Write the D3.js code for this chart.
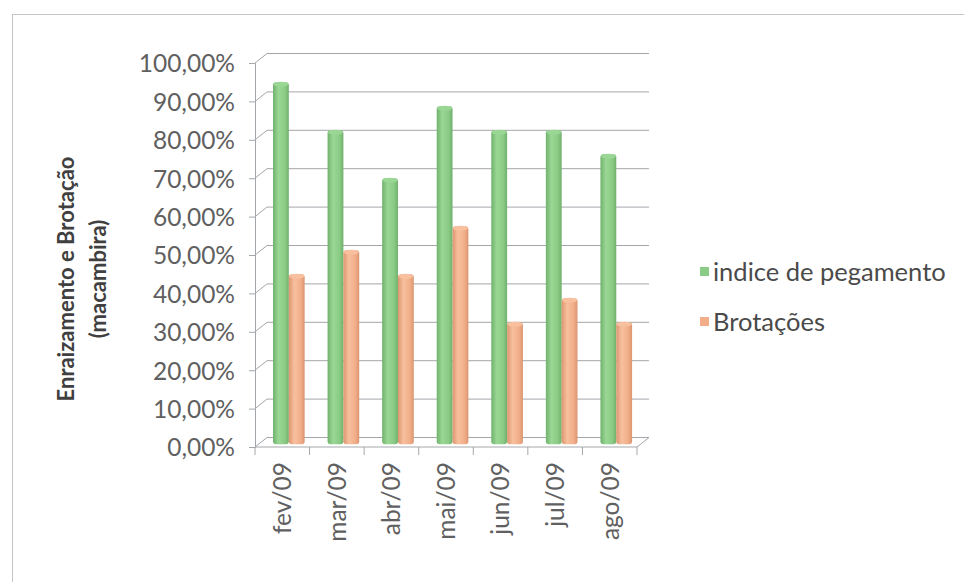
<!DOCTYPE html>
<html lang="pt">
<head>
<meta charset="UTF-8">
<title>Enraizamento e Brotação</title>
<script src="https://d3js.org/d3.v7.min.js"></script>
<style>
  body { margin: 0; background: #fff; }
  text { font-family: Lato, "Open Sans", sans-serif; }
  .tick text { fill: #606060; font-size: 24.5px; }
</style>
</head>
<body>
<svg id="svg" width="964" height="582"></svg>
<script>
// data
let months = ['fev/09', 'mar/09', 'abr/09', 'mai/09', 'jun/09', 'jul/09', 'ago/09'];
let seriesNames = ['indice de pegamento', 'Brotações'];
let pegamento = [0.9375, 0.8125, 0.6875, 0.875, 0.8125, 0.8125, 0.75];
let brotacoes = [0.4375, 0.50, 0.4375, 0.5625, 0.3125, 0.375, 0.3125];
let yTicks = [0, 0.1, 0.2, 0.3, 0.4, 0.5, 0.6, 0.7, 0.8, 0.9, 1];

let svg = d3.select('#svg');
let pt = d3.formatLocale({decimal: ',', thousands: '.', grouping: [3], currency: ['R$', '']});
let fmt = pt.format('.2%');

// front plane + depth offsets (fake 3d like excel)
let depth = {dx: 12, dy: -9.5};
let plotL = 255, plotR = 637, plotB = 447, plotT = 63;

let x = d3.scaleBand().domain(months).range([plotL, plotR]).padding(0);
let y = d3.scaleLinear().domain([0, 1]).range([plotB, plotT]);
let xs = d3.scaleBand().domain(seriesNames)
    .range([x.bandwidth() * 0.22, x.bandwidth() * 0.80]).padding(0);

// outer frame
svg.append('rect')
    .attr('x', 12.5).attr('y', 14.5)
    .attr('width', 1000).attr('height', 700)
    .attr('fill', 'none').attr('stroke', '#c4c4c4');

let grid = svg.append('g').attr('stroke', '#a3a7ab').attr('fill', 'none');

// back wall gridlines + side wall diagonals
grid.selectAll('.gl').data(yTicks).enter().append('path')
    .attr('d', d => 'M' + plotL + ',' + y(d) +
        'L' + (plotL + depth.dx) + ',' + (y(d) + depth.dy) +
        'L' + (plotR + depth.dx) + ',' + (y(d) + depth.dy));

// floor
grid.append('path')
    .attr('d', 'M' + plotL + ',' + plotB + 'L' + plotR + ',' + plotB +
        'L' + (plotR + depth.dx) + ',' + (plotB + depth.dy));

// category boundary ticks
grid.selectAll('.ct').data(d3.range(months.length + 1)).enter().append('line')
    .attr('x1', i => plotL + i * x.step()).attr('x2', i => plotL + i * x.step())
    .attr('y1', plotB).attr('y2', plotB + 8);

// y axis (front)
let yAxis = svg.append('g')
    .attr('transform', 'translate(' + plotL + ',0)')
    .call(d3.axisLeft(y).tickValues(yTicks).tickFormat(fmt).tickSize(6).tickPadding(14));
yAxis.select('.domain').attr('stroke', '#a3a7ab');
yAxis.selectAll('.tick line').attr('stroke', '#a3a7ab');
yAxis.selectAll('.tick text').attr('dy', '0.36em');

// x labels
let xAxis = svg.append('g')
    .attr('transform', 'translate(0,' + plotB + ')')
    .call(d3.axisBottom(x).tickSize(0).tickPadding(0));
xAxis.select('.domain').remove();
xAxis.selectAll('.tick text')
    .attr('transform', 'rotate(-90)')
    .attr('text-anchor', 'end')
    .attr('x', -15).attr('y', 0).attr('dy', '0.36em');

// gradients for cylinder look
let defs = svg.append('defs');
let colors = [
    ['#6fb26c', '#9ad795', '#8acb86', '#70b06c'],
    ['#dc9670', '#f8c09e', '#f1ae89', '#db9671']
];
colors.forEach((c, i) => {
    let g = defs.append('linearGradient').attr('id', 'g' + i)
        .attr('x1', 0).attr('x2', 1).attr('y1', 0).attr('y2', 0);
    g.append('stop').attr('offset', '0%').attr('stop-color', c[0]);
    g.append('stop').attr('offset', '35%').attr('stop-color', c[1]);
    g.append('stop').attr('offset', '75%').attr('stop-color', c[2]);
    g.append('stop').attr('offset', '100%').attr('stop-color', c[3]);
});

let barData = [];
months.forEach((m, i) => {
    barData.push({m: m, s: seriesNames[0], v: pegamento[i], k: 0});
    barData.push({m: m, s: seriesNames[1], v: brotacoes[i], k: 1});
});

let bx = depth.dx / 2, by = depth.dy / 2;
let bars = svg.append('g').attr('transform', 'translate(' + bx + ',' + by + ')');
let bw = xs.bandwidth();

bars.selectAll('.bar').data(barData).enter().append('rect')
    .attr('x', d => x(d.m) + xs(d.s))
    .attr('y', d => y(d.v))
    .attr('width', bw)
    .attr('height', d => y(0) - y(d.v) + 2)
    .attr('rx', 3).attr('ry', 3)
    .attr('fill', d => 'url(#g' + d.k + ')');

bars.selectAll('.cap').data(barData).enter().append('ellipse')
    .attr('cx', d => x(d.m) + xs(d.s) + bw / 2)
    .attr('cy', d => y(d.v) + 2)
    .attr('rx', bw / 2 - 0.5).attr('ry', 2.5)
    .attr('fill', d => colors[d.k][1]);

// y title
svg.append('text')
    .attr('transform', 'translate(74,279) rotate(-90)')
    .attr('text-anchor', 'middle')
    .attr('font-size', 22).attr('font-weight', 'bold').attr('fill', '#404040')
    .selectAll('tspan').data(['Enraizamento e Brotação', '(macambira)']).enter()
    .append('tspan')
    .attr('x', 0).attr('dy', (d, i) => i ? '1.45em' : 0)
    .text(d => d);

// legend
let legend = svg.append('g');
let ly = d3.scalePoint().domain(seriesNames).range([272, 322]);
legend.selectAll('rect').data(seriesNames).enter().append('rect')
    .attr('x', 700).attr('y', d => ly(d) - 5)
    .attr('width', 9).attr('height', 9)
    .attr('fill', (d, i) => colors[i][2]);
legend.selectAll('text').data(seriesNames).enter().append('text')
    .attr('x', 713).attr('y', d => ly(d))
    .attr('dy', '0.36em')
    .attr('font-size', 25.5).attr('fill', '#4a4a4a')
    .text(d => d);
</script>
</body>
</html>
